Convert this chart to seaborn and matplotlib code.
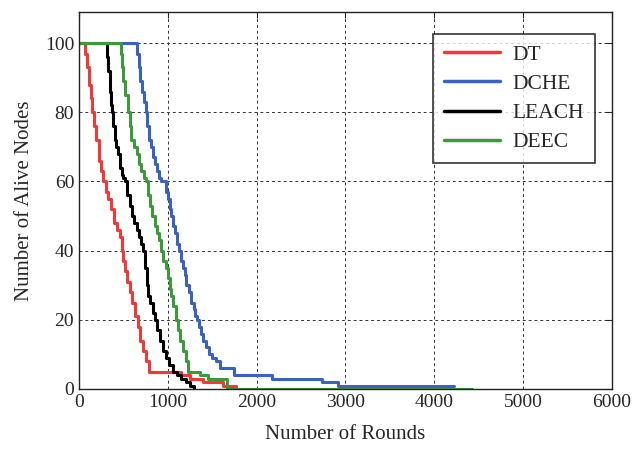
import seaborn as sns
import matplotlib
matplotlib.use('Agg')
import matplotlib.pyplot as plt
import pandas as pd

# dados (rodada, nós vivos) - degraus
dt_rounds = [0, 70, 90, 110, 130, 150, 170, 190, 220, 250, 270, 300, 330, 360, 390, 430, 460, 480, 500, 520,
             540, 570, 600, 630, 660, 690, 720, 750, 790, 1150, 1250, 1400, 1620, 1770]
dt_alive = [100, 97, 93, 88, 84, 80, 76, 72, 66, 63, 60, 57, 55, 52, 48, 46, 44, 40, 37, 34,
            31, 28, 25, 21, 18, 14, 11, 8, 5, 4, 3, 2, 1, 0]

dche_rounds = [0, 650, 670, 690, 710, 730, 755, 770, 790, 810, 830, 850, 880, 900, 920, 980, 1000, 1020,
               1040, 1060, 1080, 1100, 1125, 1150, 1170, 1190, 1210, 1240, 1260, 1290, 1310, 1330, 1350,
               1370, 1400, 1430, 1460, 1500, 1540, 1590, 1740, 2170, 2740, 2910, 4220]
dche_alive = [100, 97, 93, 89, 86, 83, 80, 76, 72, 70, 67, 65, 63, 61, 60, 57, 55, 52,
              50, 47, 45, 42, 40, 37, 35, 33, 30, 28, 25, 23, 21, 20, 18,
              16, 14, 12, 10, 9, 8, 6, 4, 3, 2, 1, 1]

leach_rounds = [0, 315, 330, 345, 360, 370, 385, 400, 420, 440, 460, 480, 500, 520, 545, 570, 600, 620,
                650, 680, 700, 720, 740, 760, 780, 800, 830, 850, 880, 910, 950, 980, 1010, 1060, 1100,
                1150, 1200, 1250, 1300]
leach_alive = [100, 96, 92, 86, 82, 80, 76, 72, 70, 68, 64, 62, 61, 60, 56, 53, 50, 48,
               46, 44, 42, 40, 35, 30, 27, 25, 22, 20, 17, 14, 11, 9, 7, 5, 4,
               3, 2, 1, 0]

deec_rounds = [0, 470, 480, 500, 520, 550, 570, 590, 620, 650, 680, 700, 730, 755, 780, 800, 820, 850,
               880, 900, 925, 950, 980, 1000, 1020, 1040, 1060, 1090, 1110, 1140, 1170, 1200, 1230, 1360,
               1450, 1670, 4420]
deec_alive = [100, 97, 93, 89, 85, 80, 76, 72, 70, 68, 65, 63, 61, 60, 56, 53, 50, 47,
              45, 43, 40, 37, 35, 32, 29, 27, 24, 20, 17, 14, 11, 8, 5, 4,
              3, 0, 0]

nomes = ['DT', 'DCHE', 'LEACH', 'DEEC']
cores = ['#f03a3a', '#3a62be', '#000000', '#3c9a3c']

df = pd.concat([
    pd.DataFrame({'rounds': dt_rounds, 'alive': dt_alive, 'alg': 'DT'}),
    pd.DataFrame({'rounds': dche_rounds, 'alive': dche_alive, 'alg': 'DCHE'}),
    pd.DataFrame({'rounds': leach_rounds, 'alive': leach_alive, 'alg': 'LEACH'}),
    pd.DataFrame({'rounds': deec_rounds, 'alive': deec_alive, 'alg': 'DEEC'}),
])

sns.set_style('white')
plt.rcParams['font.family'] = ['Liberation Serif', 'DejaVu Serif']

fig, ax = plt.subplots(figsize=(6.34, 4.53), dpi=100)
fig.subplots_adjust(left=0.1246, right=0.9653, top=0.9735, bottom=0.1413)

sns.lineplot(data=df, x='rounds', y='alive', hue='alg', hue_order=nomes, palette=cores,
             estimator=None, sort=False, drawstyle='steps-post', linewidth=2.2, ax=ax)

ax.set_xlim(0, 6000)
ax.set_ylim(0, 109)
ax.set_xticks(range(0, 6001, 1000))
ax.set_yticks(range(0, 101, 20))
ax.grid(True, color='#333333', linestyle=(0, (3, 3)), linewidth=0.7)
ax.tick_params(direction='in', top=True, right=True, labelsize=14, length=4)
for s in ax.spines.values():
    s.set_color('#222222')
    s.set_linewidth(1)

ax.set_xlabel('Number of Rounds', fontsize=15, labelpad=10)
ax.set_ylabel('Number of Alive Nodes', fontsize=15, labelpad=8)

leg = ax.legend(loc='upper right', bbox_to_anchor=(0.988, 0.97), fontsize=15.5, frameon=True,
                fancybox=False, edgecolor='black', handlelength=2.6, handletextpad=0.6,
                borderpad=0.5, labelspacing=0.42)
leg.get_frame().set_linewidth(1.2)
for l in leg.get_lines():
    l.set_linewidth(2.5)

plt.savefig('out.png', dpi=100)
